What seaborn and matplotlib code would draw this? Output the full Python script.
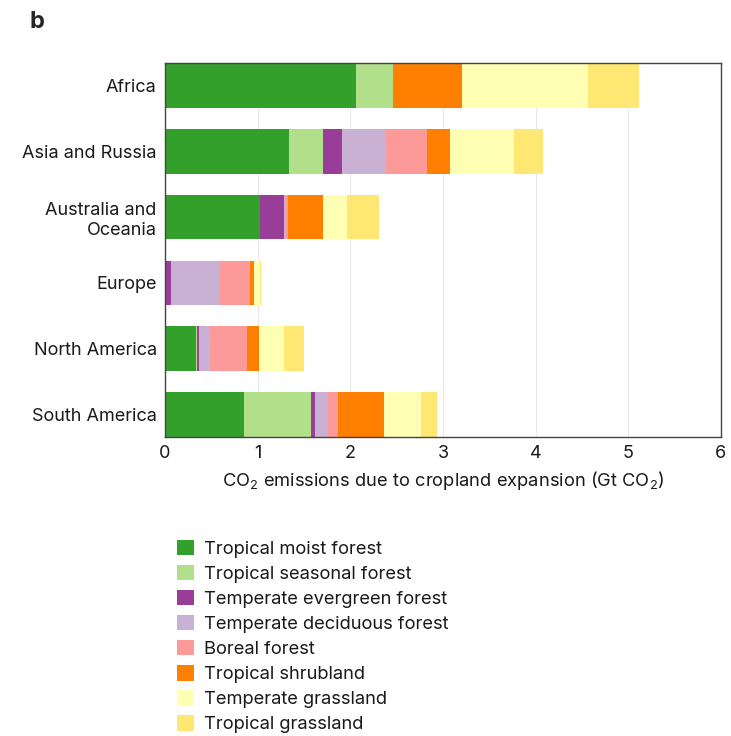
import matplotlib
matplotlib.use("Agg")
import matplotlib.pyplot as plt
from matplotlib.patches import Patch
import seaborn as sns
import pandas as pd
import numpy as np

regions = ["Africa", "Asia and Russia", "Australia and\nOceania", "Europe",
           "North America", "South America"]

biomes = ["Tropical moist forest", "Tropical seasonal forest",
          "Temperate evergreen forest", "Temperate deciduous forest",
          "Boreal forest", "Tropical shrubland", "Temperate grassland",
          "Tropical grassland"]

# Gt CO2 per biome, one list per region
africa = [2.06, 0.40, 0.00, 0.00, 0.00, 0.74, 1.36, 0.55]
asia_russia = [1.34, 0.37, 0.20, 0.47, 0.45, 0.25, 0.69, 0.31]
australia_oceania = [1.03, 0.00, 0.25, 0.03, 0.02, 0.38, 0.25, 0.35]
europe = [0.00, 0.00, 0.065, 0.52, 0.335, 0.045, 0.06, 0.01]
north_america = [0.33, 0.02, 0.02, 0.115, 0.405, 0.125, 0.27, 0.21]
south_america = [0.85, 0.73, 0.04, 0.135, 0.11, 0.50, 0.40, 0.17]

colors = ["#33a02c", "#b2df8a", "#9a3d99", "#c9b1d5",
          "#fb9a99", "#ff7f00", "#ffffb3", "#fee873"]

values = pd.DataFrame([africa, asia_russia, australia_oceania, europe,
                       north_america, south_america],
                      index=regions, columns=biomes)
cumulative = values.cumsum(axis=1)

sns.set_style("white")
plt.rcParams["font.family"] = ["Inter", "DejaVu Sans"]
plt.rcParams["mathtext.fontset"] = "custom"
plt.rcParams["mathtext.rm"] = "Inter"

fig = plt.figure(figsize=(7.31, 7.36), dpi=100)
ax = fig.add_axes([0.2257, 0.4062, 0.7606, 0.5082])

# stacked bars: draw the running totals from the longest to the shortest
for biome, color in reversed(list(zip(biomes, colors))):
    df = pd.DataFrame({"region": regions, "total": cumulative[biome].values})
    sns.barplot(data=df, x="total", y="region", color=color, width=0.68,
                saturation=1, orient="h", ax=ax, linewidth=0)

ax.set_xlim(0, 6)
ax.set_ylim(5.34, -0.34)
ax.set_xticks(range(7))
ax.xaxis.grid(True, color="#e8e8e8", linewidth=0.8)
ax.set_axisbelow(True)
ax.tick_params(axis="both", labelsize=13, colors="#1a1a1a", length=0, pad=6)
ax.set_ylabel("")
ax.set_xlabel(r"CO$_2$ emissions due to cropland expansion (Gt CO$_2$)",
              fontsize=13.2, color="#1a1a1a", labelpad=5)
for lab in ax.get_yticklabels():
    lab.set_multialignment("right")
for s in ax.spines.values():
    s.set_visible(True)
    s.set_color("#444444")
    s.set_linewidth(1.0)

handles = [Patch(facecolor=c, edgecolor="none", label=b)
           for b, c in zip(biomes, colors)]
fig.legend(handles=handles, loc="upper left", bbox_to_anchor=(0.2421, 0.2663),
           frameon=False, fontsize=13.2, handlelength=0.92, handleheight=0.92,
           handletextpad=0.55, labelspacing=0.38, borderaxespad=0, borderpad=0,
           labelcolor="#1a1a1a")

fig.text(0.04, 0.97, "b", fontsize=17, fontweight="bold", va="center")

fig.savefig("out.png", dpi=100)
